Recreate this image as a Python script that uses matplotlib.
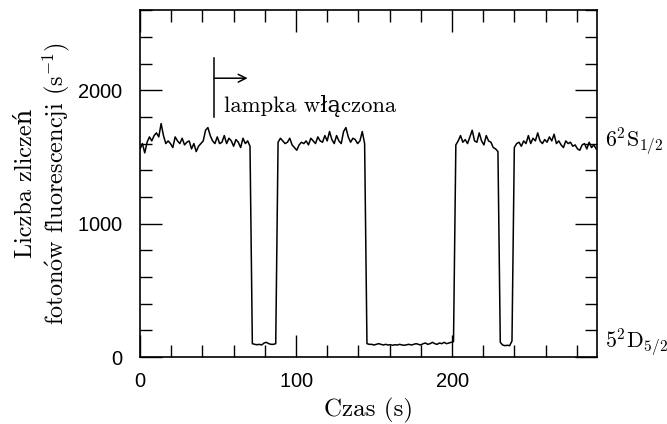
import numpy as np
import matplotlib
matplotlib.use("Agg")
import matplotlib.pyplot as plt

plt.rcParams['mathtext.fontset'] = 'cm'
plt.rcParams['axes.formatter.use_mathtext'] = True

# sampling interval of the photon counter (s)
krok_s = 1.5

# photon counts per second (one value every 1.5 s)
zliczenia = [
    # 0 .. 70.5 s : ion fluorescing (6^2S_1/2)
    1560, 1600, 1530, 1610, 1650, 1620, 1660, 1680, 1650, 1750,
    1660, 1600, 1620, 1600, 1570, 1650, 1620, 1600, 1640, 1590,
    1610, 1620, 1560, 1600, 1540, 1580, 1600, 1620, 1700, 1720,
    1660, 1620, 1600, 1650, 1600, 1610, 1660, 1600, 1640, 1620,
    1580, 1630, 1610, 1570, 1640, 1600, 1620, 1580,
    # 72 .. 87 s : shelved (5^2D_5/2)
    100, 95, 92, 95, 90, 105, 110, 100, 95, 95, 100,
    # 88.5 .. 144 s
    1610, 1640, 1620, 1600, 1610, 1640, 1590, 1570, 1550, 1590,
    1610, 1600, 1620, 1590, 1640, 1620, 1600, 1650, 1620, 1610,
    1660, 1620, 1690, 1630, 1600, 1660, 1620, 1600, 1690, 1720,
    1650, 1610, 1640, 1630, 1600, 1620, 1690, 1600,
    # 145.5 .. 201 s
    100, 95, 95, 90, 95, 100, 95, 90, 95, 90,
    92, 88, 92, 90, 95, 90, 88, 92, 95, 90,
    95, 100, 95, 90, 100, 105, 95, 100, 110, 100,
    95, 105, 100, 110, 100, 105, 110, 115,
    # 202.5 .. 229.5 s
    1590, 1620, 1660, 1610, 1630, 1600, 1650, 1700, 1620, 1610,
    1680, 1620, 1590, 1660, 1620, 1610, 1570, 1560, 1540,
    # 231 .. 238.5 s
    110, 90, 85, 88, 85, 120,
    # 240 .. 292.5 s
    1570, 1600, 1610, 1580, 1620, 1600, 1660, 1600, 1640, 1620,
    1680, 1620, 1600, 1630, 1610, 1650, 1620, 1670, 1600, 1620,
    1590, 1570, 1620, 1600, 1610, 1580, 1590, 1560, 1550, 1590,
    1600, 1560, 1610, 1570, 1590, 1560,
]
czas = np.arange(len(zliczenia)) * krok_s

x_ticks = [0, 100, 200]
y_ticks = [0, 1000, 2000]
x_lim = [0, 293]
y_lim = [0, 2600]
poziom_S = 1600
poziom_D = 110
lampka_t = 47.5

fig = plt.figure(figsize=(6.67, 4.24), dpi=100)
ax = fig.add_axes([0.21, 0.158, 0.685, 0.818])

ax.plot(czas, zliczenia, color='black', lw=1.1)

ax.set_xlim(x_lim)
ax.set_ylim(y_lim)
ax.set_xticks(x_ticks)
ax.set_yticks(y_ticks)
ax.set_xticks(np.arange(0, 293, 20), minor=True)
ax.set_yticks(np.arange(0, 2601, 200), minor=True)
ax.tick_params(which='both', direction='in', top=True, right=True, width=1.0, color='black')
ax.tick_params(which='major', length=16, labelsize=14.5)
ax.tick_params(which='minor', length=8.5)
ax.tick_params(axis='x', which='major', pad=11)
ax.tick_params(axis='y', which='major', pad=12)
for lab in ax.get_xticklabels() + ax.get_yticklabels():
    lab.set_family(['Liberation Sans', 'DejaVu Sans'])
for sp in ax.spines.values():
    sp.set_linewidth(1.2)

serif = ['cmr10', 'DejaVu Serif']
ax.set_xlabel('Czas (s)', fontsize=18, family=serif, labelpad=5)
ax.set_ylabel('Liczba zliczeń\nfoton$\\acute{\\mathrm{o}}$w fluorescencji (s$^{-1}$)',
              fontsize=17.5, family=serif, labelpad=4, linespacing=1.15)

# lamp switched on marker
ax.plot([lampka_t, lampka_t], [1800, 2240], color='black', lw=1.1)
ax.annotate('', xy=(69, 2090), xytext=(lampka_t, 2090),
            arrowprops=dict(arrowstyle='->', color='black', lw=1.1,
                            shrinkA=0, shrinkB=0, mutation_scale=14))
ax.text(54, 1880, 'lampka włączona', fontsize=16.3, family=serif, va='center', ha='left')

ax.text(x_lim[1] + 5, poziom_S + 20, r'$6^2\mathrm{S}_{1/2}$', fontsize=15.8,
        va='center', ha='left', clip_on=False)
ax.text(x_lim[1] + 5, poziom_D, r'$5^2\mathrm{D}_{5/2}$', fontsize=15.8,
        va='center', ha='left', clip_on=False)

fig.savefig('out.png', dpi=100)
